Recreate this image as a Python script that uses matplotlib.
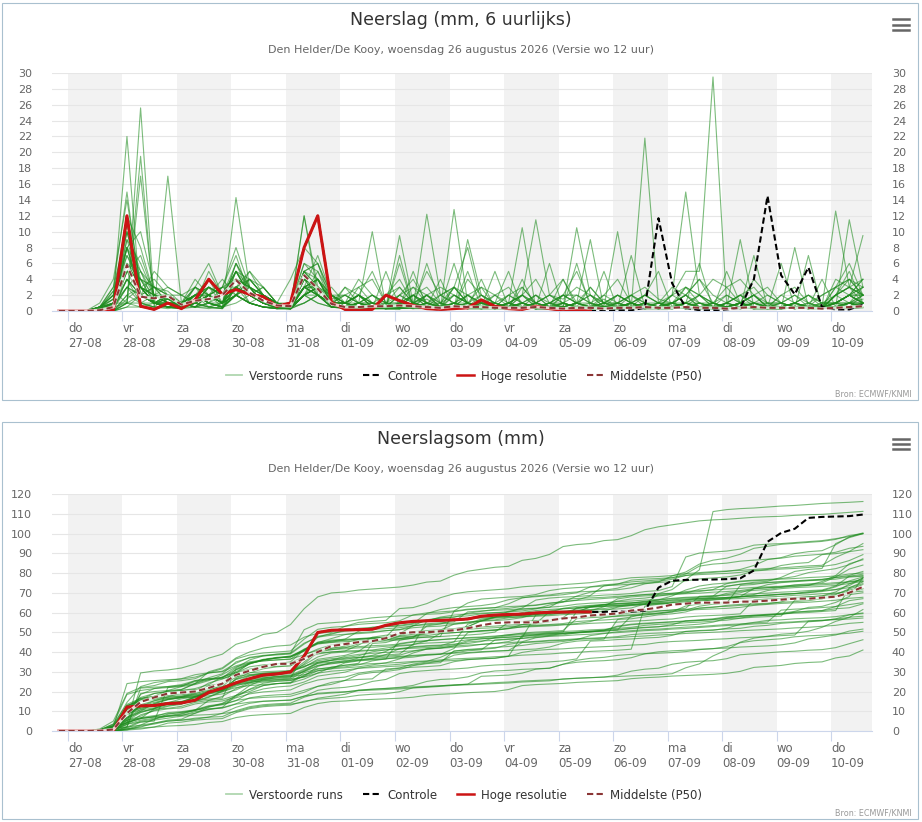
import numpy as np
import pandas as pd
import matplotlib
matplotlib.use('Agg')
import matplotlib.pyplot as plt
from matplotlib.lines import Line2D
from matplotlib.patches import Rectangle

W, H = 922, 822

# tijdstappen van 6 uur (lokale tijd), run van 26-08 12 UTC, +6h t/m +360h
times = pd.date_range('2026-08-26 20:00', periods=60, freq='6h')
days = pd.date_range('2026-08-27', '2026-09-10', freq='D')
day_abbr = ['ma', 'di', 'wo', 'do', 'vr', 'za', 'zo']

title_top = 'Neerslag (mm, 6 uurlijks)'
title_bot = 'Neerslagsom (mm)'
subtitle = 'Den Helder/De Kooy, woensdag 26 augustus 2026 (Versie wo 12 uur)'
bron = 'Bron: ECMWF/KNMI'
legend_labels = ['Verstoorde runs', 'Controle', 'Hoge resolutie', 'Middelste (P50)']

# hoge resolutie: 6-uurlijkse neerslag, loopt t/m +240h
hres_6h = [0, 0, 0, 0, 0.1, 12.0, 0.6, 0.2, 1.0, 0.3, 1.4, 4.0, 2.1, 2.7, 2.1, 1.8,
           0.6, 1.0, 8.0, 12.0, 1.1, 0.2, 0.1, 0.2, 2.0, 1.3, 0.7, 0.3, 0.2, 0.3,
           0.4, 1.4, 0.6, 0.3, 0.2, 0.6, 0.3, 0.1, 0.1, 0.0]

# controle run (eerste 10 dagen gelijk aan hoge resolutie)
ctrl_6h = [0, 0, 0, 0, 0.1, 12.0, 0.6, 0.2, 1.0, 0.3, 1.4, 4.0, 2.1, 2.7, 2.1, 1.8,
           0.6, 1.0, 8.0, 12.0, 1.1, 0.2, 0.1, 0.2, 2.0, 1.3, 0.7, 0.3, 0.2, 0.3,
           0.4, 1.4, 0.6, 0.3, 0.2, 0.6, 0.3, 0.1, 0.1, 0.0,
           0.0, 0.1, 0.1, 0.4, 11.7, 3.5, 0.4, 0.1, 0.1, 0.2, 0.4, 4.0, 14.5, 4.5,
           2.1, 5.5, 0.5, 0.2, 0.2, 0.8]

# mediaan van de 6-uurlijkse neerslag
p50_6h = [0, 0, 0, 0.1, 0.5, 5.8, 1.8, 1.6, 1.9, 0.8, 1.3, 1.5, 2.0, 3.9, 2.3, 1.3,
          0.7, 0.6, 4.5, 2.8, 0.9, 0.5, 0.5, 0.6, 0.6, 0.7, 0.6, 0.5, 0.4, 0.6,
          0.5, 0.5, 0.4, 0.4, 0.4, 0.5, 0.4, 0.3, 0.4, 0.4, 0.3, 0.4, 0.4, 0.5,
          0.4, 0.4, 0.5, 0.4, 0.4, 0.3, 0.4, 0.5, 0.4, 0.4, 0.4, 0.4, 0.3, 0.4,
          0.5, 0.6]

# mediaan van de neerslagsom
p50_sum = [0, 0, 0, 0.1, 0.8, 9, 14.7, 17, 19, 19.5, 20, 21.8, 24, 28.4, 30.5, 32.5,
           34, 34, 36.5, 40, 43, 44, 45, 45.5, 47, 49.5, 50, 50, 50.5, 51, 52, 53.5,
           54.7, 55, 55, 55, 56, 57, 57.5, 58.5, 59, 59.5, 61, 61.5, 62.5, 64, 64.5,
           65, 65, 65, 65.5, 65.5, 66, 66.5, 67, 67, 67.5, 68, 70, 73]

# verstoorde runs, 6-uurlijkse neerslag (mm)
runs_6h = [
    [0, 0, 0, 0.3, 2.5, 1, 25.6, 1, 0.5, 1, 2, 3, 2, 5, 2, 3, 1, 4, 8, 6, 2, 0.5, 1, 0.5, 0.5,
     0.5, 1, 1.5, 0.5, 3, 2, 1, 1, 0.5, 3, 1, 2, 4, 1, 0.5, 1.5, 0.5, 2, 3, 1.5, 1, 1, 1, 0.5,
     0.3, 0.5, 0.5, 0.3, 0.2, 0.5, 0.3, 0.2, 0.5, 0.5, 0.5],
    [0, 0, 0, 0.2, 1, 1, 19.5, 0.5, 0.3, 0.5, 1, 3, 2, 6, 2, 1, 0.5, 0.5, 5, 4, 1, 2, 1, 0.5, 0.3,
     0.3, 1, 2, 1, 0.5, 2, 1, 1, 0.5, 1, 0.5, 1, 1, 0.5, 0.5, 0.5, 0.5, 1, 0.5, 0.5, 2, 5, 5, 29.5,
     1, 0.5, 0.3, 0.5, 0.5, 0.3, 0.5, 0.5, 0.3, 0.3, 0.4],
    [0, 0, 0, 0, 0.5, 9, 3, 2, 1.5, 1, 2, 4, 1, 3, 4, 2, 1, 0.5, 3, 2, 0.5, 0.5, 0.3, 0.2, 1,
     1, 0.5, 12.2, 2, 1, 0.5, 0.5, 0.3, 0.3, 0.5, 1, 2, 1.5, 3, 2, 1, 1, 2, 1, 0.5, 1, 2, 1, 0.5,
     0.5, 1, 2, 3, 1, 2, 1, 0.5, 3, 4, 2],
    [0, 0, 0, 0.5, 1.5, 22, 1, 0.5, 0.5, 0.3, 1, 2, 1, 4, 3, 1, 0.5, 0.5, 12, 3, 0.5, 0.5, 1, 1, 0.5,
     0.5, 0.3, 0.5, 0.3, 1, 1, 0.5, 0.5, 2, 3, 1, 0.5, 1, 0.5, 0.3, 0.3, 0.5, 1, 2, 1, 3, 2, 4, 2,
     1, 2, 3, 1, 1, 0.5, 0.5, 0.5, 1, 2, 1],
    [0, 0, 0, 0, 0.8, 6, 4, 3, 2, 1, 0.5, 2, 3, 7, 2, 1, 0.5, 0.3, 4, 3, 1, 1, 2, 1, 0.5,
     0.5, 1, 0.5, 0.3, 12.8, 1, 0.5, 0.3, 0.5, 0.3, 0.5, 1, 0.5, 1, 2, 0.5, 0.3, 0.5, 1, 0.5, 2, 15, 2, 0.5,
     0.5, 1, 2, 0.5, 0.3, 0.5, 0.5, 0.5, 1, 1, 1.5],
    [0, 0, 0, 0, 0.3, 4, 2, 5, 3, 2, 1, 0.5, 1, 2, 3, 1, 0.5, 0.2, 2, 3, 1, 0.5, 0.5, 1, 1,
     2, 3, 2, 0.5, 1, 0.5, 0.3, 0.5, 1, 2, 11.5, 2, 1, 0.5, 0.5, 1, 2, 1, 0.5, 1, 1, 0.5, 2, 1,
     0.5, 1, 1, 0.5, 2, 3, 1, 0.5, 12.6, 3, 2],
    [0, 0, 0, 0.5, 0.5, 1, 17, 1, 0.5, 0.5, 3, 6, 2, 5, 3, 2, 1, 0.5, 4, 2, 0.5, 3, 2, 0.5, 0.5,
     6, 0.5, 2, 3, 2, 1, 0.5, 0.5, 0.5, 1, 0.5, 0.3, 0.3, 0.5, 0.5, 1, 0.5, 1, 0.3, 0.3, 0.5, 1, 0.5, 0.5,
     0.3, 0.3, 0.5, 0.5, 0.3, 0.5, 0.5, 0.3, 4, 3, 4],
    [0, 0, 0, 0.2, 0.5, 8, 2, 1, 2, 1, 0.5, 1, 0.5, 14.3, 3, 2, 1, 0.5, 3, 4, 1, 0.5, 0.5, 0.5, 0.3,
     1, 2, 0.5, 0.5, 0.5, 1, 3, 2, 0.5, 0.3, 0.5, 1, 2, 1, 0.5, 0.5, 0.5, 0.3, 0.5, 1, 2, 3, 2, 1,
     0.5, 1, 0.5, 0.3, 0.5, 1, 2, 1, 1, 2, 3],
    [0, 0, 0, 0, 0.2, 3, 5, 2, 1, 0.5, 2, 1, 0.5, 2, 4, 3, 1, 0.5, 2, 5, 2, 1, 0.5, 0.5, 2,
     3, 1, 0.5, 0.3, 0.5, 0.3, 1, 2, 1, 0.5, 0.3, 0.5, 0.5, 10.5, 2, 0.5, 0.3, 0.5, 1, 0.5, 1, 0.5, 0.3, 0.5,
     2, 1, 0.5, 0.5, 1, 0.5, 0.5, 2, 3, 6, 2],
    [0, 0, 0, 0.3, 2, 7, 3, 1, 0.5, 1, 0.5, 2, 3, 3, 1, 2, 0.5, 0.5, 3, 4, 1.5, 2, 1, 0.5, 0.5,
     0.3, 0.5, 1, 0.5, 1, 2, 0.5, 0.3, 0.5, 0.5, 1, 0.5, 1, 0.5, 0.3, 0.3, 0.5, 1, 0.5, 0.3, 0.5, 0.3, 0.5, 1,
     2, 1, 0.5, 0.3, 0.3, 0.5, 0.3, 0.5, 0.5, 11.5, 3],
    [0, 0, 0, 0, 1, 12, 2, 1, 0.5, 0.5, 1, 2, 1, 3, 2, 1, 0.5, 0.3, 3, 4, 1, 1, 0.5, 0.3, 0.3,
     0.5, 2, 1, 0.5, 0.5, 0.5, 1, 0.5, 0.3, 0.5, 2, 1, 0.5, 1, 1, 0.3, 0.5, 0.3, 0.5, 0.5, 1, 2, 0.5, 0.5,
     1, 0.5, 0.3, 0.5, 0.5, 1, 2, 0.5, 2, 3, 9.5],
    [0, 0, 0, 0, 0, 2, 3, 1, 1.5, 0.5, 1, 3, 2, 4, 2, 3, 1, 0.5, 5, 2, 0.5, 0.5, 1, 2, 1,
     1, 0.5, 0.5, 0.3, 3, 8, 1, 0.5, 0.5, 1, 0.5, 0.3, 0.3, 0.5, 1, 2, 1, 0.5, 0.5, 0.3, 0.5, 1, 2, 1,
     0.5, 9, 0.5, 1, 0.5, 0.3, 0.5, 0.3, 1, 1, 2],
    [0, 0, 0, 0.5, 3, 10, 3, 1, 2, 1, 0.5, 0.5, 1, 2, 1, 0.5, 0.3, 0.5, 12, 2, 0.5, 0.3, 0.5, 0.3, 0.5,
     0.5, 0.3, 2, 0.5, 0.5, 0.3, 0.3, 0.5, 1, 0.5, 0.3, 0.3, 0.5, 0.3, 0.5, 0.3, 0.5, 0.5, 1, 0.5, 0.3, 0.5, 0.3, 0.5,
     0.5, 1, 0.5, 0.3, 0.3, 8, 0.5, 0.3, 2, 3, 2],
    [0, 0, 0, 0, 0.5, 5, 2, 3, 2, 1, 4, 2, 1, 3, 2, 1, 1, 0.5, 2, 3, 1, 1, 2, 1, 0.5,
     0.5, 5, 0.5, 0.3, 0.3, 9, 2, 1, 0.5, 0.3, 0.5, 0.5, 1, 2, 1, 0.5, 0.3, 0.5, 0.3, 0.5, 0.5, 1, 0.5, 0.3,
     0.3, 0.5, 1, 2, 1, 0.5, 0.3, 0.3, 0.5, 1, 1],
    [0, 0, 0, 0, 0.5, 3, 1, 0.5, 17, 1, 2, 1, 0.5, 2, 1, 0.5, 0.3, 0.3, 2, 3, 1, 0.5, 1, 2, 1,
     0.5, 0.3, 0.3, 0.5, 1, 2, 1, 0.5, 0.3, 0.5, 0.3, 0.5, 0.5, 0.3, 0.5, 1, 2, 1, 0.5, 0.3, 0.5, 0.3, 0.3, 0.5,
     1, 0.5, 0.3, 0.3, 0.5, 1, 0.5, 0.3, 1, 0.5, 2],
    [0, 0, 0, 0, 0, 1, 2, 3, 2.5, 1, 1, 5, 2, 4, 3, 1, 0.5, 0.3, 1, 2, 3, 1, 1, 10, 0.5,
     2, 1, 0.5, 1, 0.5, 0.5, 0.3, 0.3, 1, 2, 0.5, 6, 0.3, 0.5, 0.3, 0.5, 1, 0.5, 0.5, 0.3, 0.3, 0.5, 1, 1,
     0.5, 0.3, 0.5, 0.3, 0.5, 0.3, 0.5, 1, 2, 3, 2],
    [0, 0, 0, 0.5, 2, 6, 3, 2, 1, 0.5, 2, 3, 1, 5, 2, 1, 0.5, 1, 3, 4, 2, 0.5, 0.3, 0.5, 0.3,
     0.3, 1, 0.5, 0.3, 2, 1, 0.5, 0.3, 0.5, 0.3, 1, 0.5, 0.3, 0.5, 0.3, 0.3, 0.5, 7, 0.5, 1, 1, 0.5, 0.3, 0.3,
     0.3, 0.5, 1, 0.5, 0.5, 0.3, 0.3, 0.5, 0.5, 1, 0.5],
    [0, 0, 0, 0, 0, 2, 1, 1, 1.5, 0.5, 3, 2, 1, 6, 3, 2, 1, 0.3, 2, 3, 1, 0.5, 1, 0.3, 0.5,
     0.3, 0.5, 1, 1, 3, 1, 0.5, 0.5, 0.3, 0.5, 0.3, 1, 2, 1, 0.5, 0.5, 10, 0.3, 1, 1, 0.5, 1, 2, 0.5,
     0.3, 0.5, 0.3, 0.5, 1, 2, 0.5, 0.5, 2, 4, 3],
    [0, 0, 0, 0.3, 1.5, 11, 3, 1, 0.5, 0.3, 1, 3, 2, 4, 1, 0.5, 0.3, 0.5, 5, 6, 1, 0.5, 0.3, 0.5, 0.3,
     0.5, 1, 0.5, 4, 0.3, 0.5, 0.3, 0.5, 1, 0.5, 0.3, 0.3, 0.5, 0.3, 0.5, 0.3, 0.3, 0.5, 0.3, 0.5, 0.3, 1, 0.5, 0.3,
     0.3, 0.5, 7, 0.5, 0.3, 0.5, 0.3, 0.5, 1, 2, 1],
    [0, 0, 0, 0, 1, 5, 4, 1, 0.5, 1, 2, 1, 0.5, 2, 5, 3, 1, 0.5, 1, 2, 1, 3, 1, 0.5, 0.5,
     9.5, 1, 0.5, 0.3, 0.5, 0.3, 0.5, 1, 5, 0.3, 0.5, 0.3, 1, 0.5, 0.3, 0.5, 0.5, 1, 0.5, 0.3, 0.5, 0.3, 0.5, 0.5,
     1, 0.5, 0.3, 0.3, 0.5, 0.3, 0.5, 1, 1, 2, 2],
    [0, 0, 0, 0, 0.3, 4, 2, 1, 2, 0.5, 1, 2, 1, 3, 2, 1, 0.5, 0.5, 3, 2, 1, 0.5, 2, 1, 0.5,
     1, 0.5, 0.3, 0.5, 2, 1, 0.5, 0.3, 1, 10.5, 0.3, 0.5, 0.3, 0.5, 0.3, 0.5, 2, 1, 0.5, 0.5, 0.3, 0.5, 0.3, 0.5,
     0.5, 0.3, 1, 0.5, 0.5, 1, 0.5, 0.3, 2, 3, 1],
    [0, 0, 0, 0.5, 1, 8, 2, 1, 1, 0.5, 1, 2, 3, 2, 1, 0.5, 0.5, 0.3, 4, 3, 1, 1, 0.5, 0.3, 0.3,
     0.3, 0.5, 0.3, 0.5, 0.5, 0.3, 0.3, 0.5, 0.3, 0.5, 0.3, 0.3, 0.5, 0.3, 0.5, 0.3, 0.3, 0.5, 21.8, 1, 0.5, 0.3, 0.5, 1,
     0.5, 1, 0.5, 0.3, 0.3, 0.5, 1, 0.5, 0.5, 1, 2],
    [0, 0, 0, 0, 0, 1, 1, 2, 1, 0.5, 0.5, 1, 2, 3, 2, 1, 0.3, 0.3, 2, 3, 1, 0.5, 1, 2, 1,
     3, 1, 0.5, 0.5, 0.3, 0.5, 1, 0.5, 0.3, 0.5, 0.3, 0.5, 0.5, 1, 9, 0.3, 0.5, 0.3, 0.5, 0.3, 1, 2, 0.5, 0.3,
     0.5, 0.3, 1, 0.5, 1, 0.5, 0.3, 0.5, 1, 2, 1],
    [0, 0, 0, 0, 0, 0.5, 2, 1, 1.5, 0.5, 1, 0.5, 0.3, 3, 2, 1, 0.5, 0.3, 3, 2, 0.5, 0.3, 0.5, 0.3, 0.3,
     0.3, 0.5, 0.3, 0.5, 0.5, 0.3, 0.3, 0.3, 0.3, 0.5, 0.3, 0.3, 1, 0.3, 0.3, 0.3, 0.3, 0.3, 0.3, 0.3, 0.5, 3, 2, 4,
     3, 4, 2, 1, 1, 0.5, 1, 2, 3, 2, 4],
    [0, 0, 0, 0.5, 1, 4, 1, 0.5, 0.5, 0.3, 2, 1, 1, 2, 3, 1, 0.5, 0.3, 2, 2, 1, 2, 3, 1, 0.5,
     1, 2, 1, 0.5, 6, 0.5, 0.3, 0.5, 2, 1, 0.5, 0.5, 0.3, 0.5, 0.3, 0.3, 0.5, 1, 0.5, 0.3, 0.3, 0.5, 0.3, 0.3,
     1, 2, 1, 1, 0.3, 0.5, 0.3, 0.3, 0.5, 1, 0.5],
    [0, 0, 0, 0, 0.5, 3, 2, 1, 1, 1, 2, 2, 1, 2, 1, 0.5, 0.3, 0.3, 2, 3, 2, 1, 0.5, 0.3, 5,
     0.5, 2, 1, 0.5, 0.3, 0.5, 0.3, 0.3, 1, 2, 1, 0.5, 0.3, 0.5, 0.3, 0.3, 0.3, 0.5, 0.3, 1, 0.5, 0.3, 0.3, 0.5,
     0.3, 0.5, 0.3, 0.3, 0.5, 0.3, 7, 0.3, 0.5, 0.3, 0.5],
    [0, 0, 0, 0, 0, 1.5, 3, 1, 1, 1, 0.5, 0.3, 0.5, 1, 2, 1, 0.5, 0.3, 1, 2, 1, 1, 2, 0.5, 0.5,
     0.5, 1, 2, 1, 0.3, 1, 2, 1, 0.3, 0.5, 0.3, 0.3, 2, 2, 1, 0.5, 1, 0.5, 0.3, 0.3, 0.3, 0.5, 1, 0.5,
     0.3, 0.5, 0.3, 0.3, 0.5, 1, 2, 1, 1, 2, 1],
    [0, 0, 0, 0, 0, 1, 0.5, 0.5, 2, 0.5, 1, 0.5, 0.3, 3, 2, 1, 0.5, 0.3, 2, 1, 0.5, 0.5, 1, 0.5, 0.3,
     1, 2, 0.5, 0.5, 0.3, 0.5, 4, 0.3, 0.3, 1, 2, 0.5, 2, 1, 0.5, 0.3, 0.5, 1, 2, 1, 0.5, 0.3, 0.5, 0.3,
     1, 2, 1, 0.5, 0.5, 1, 0.5, 0.3, 0.5, 0.5, 1],
    [0, 0, 0, 0.3, 1, 3, 2, 1, 0.5, 1, 2, 0.5, 0.3, 2, 1, 0.5, 0.3, 0.3, 2, 1, 0.5, 0.5, 1, 0.5, 0.3,
     0.3, 0.5, 0.3, 0.3, 0.5, 0.3, 0.3, 0.5, 0.3, 0.5, 0.3, 0.3, 0.3, 0.5, 0.3, 0.3, 1, 2, 1, 0.5, 2, 1, 0.5, 0.3,
     1, 2, 0.5, 0.5, 0.5, 0.3, 0.5, 0.3, 1, 2, 2],
    [0, 0, 0, 0, 0, 0.5, 0.5, 1, 0.5, 0.3, 0.5, 1, 0.5, 2, 1, 0.5, 0.3, 0.3, 3, 2, 1, 0.3, 0.5, 0.3, 0.3,
     0.3, 0.5, 1, 0.5, 0.3, 0.5, 0.3, 0.3, 1, 2, 0.5, 0.3, 0.3, 0.5, 0.3, 0.3, 0.3, 1, 0.5, 0.3, 0.5, 0.3, 0.3, 0.3,
     0.5, 1, 2, 0.5, 0.5, 1, 0.5, 0.3, 2, 1, 3],
    [0, 0, 0, 0.5, 1.5, 9, 6, 2, 1, 1, 3, 2, 1, 4, 3, 2, 1, 0.5, 4, 3, 1, 1, 4, 2, 0.5,
     0.5, 1, 5, 2, 1, 0.5, 0.5, 1, 2, 1, 0.5, 0.5, 0.5, 1, 3, 1, 0.5, 1, 0.5, 0.5, 1, 2, 4, 1,
     0.5, 1, 0.5, 0.5, 0.5, 1, 0.5, 0.5, 1, 2, 1],
    [0, 0, 0, 1, 4, 14, 3, 1, 2, 0.5, 1, 3, 2, 5, 2, 1, 0.5, 0.5, 6, 5, 1, 0.5, 1, 0.5, 0.3,
     1, 3, 1, 0.5, 0.5, 4, 2, 0.5, 0.5, 0.3, 1, 2, 1, 0.5, 0.3, 0.5, 1, 2, 0.5, 0.3, 0.5, 1, 0.5, 0.3,
     0.3, 0.5, 1, 0.5, 2, 1, 0.5, 4, 0.5, 1, 1],
    [0, 0, 0, 0.3, 1, 7, 4, 3, 2, 2, 1, 4, 2, 3, 5, 2, 1, 0.5, 3, 4, 2, 2, 1, 0.5, 0.5,
     0.5, 2, 3, 1, 0.5, 0.5, 1, 0.5, 0.5, 2, 4, 1, 0.5, 0.3, 0.5, 5, 0.3, 0.5, 0.3, 0.5, 0.5, 0.3, 1, 0.5,
     0.5, 1, 2, 0.5, 0.5, 0.3, 0.5, 0.5, 1, 2, 3],
    [0, 0, 0, 0, 0.5, 10, 5, 1, 0.5, 0.5, 2, 1, 3, 8, 3, 1, 0.5, 0.3, 5, 3, 0.5, 0.5, 0.3, 0.5, 0.3,
     0.3, 0.5, 6, 1, 2, 1, 0.5, 0.3, 0.3, 0.5, 0.3, 0.5, 0.5, 0.3, 0.5, 2, 4, 1, 0.5, 0.3, 0.3, 0.5, 0.3, 0.5,
     0.3, 0.5, 1, 0.5, 0.3, 0.5, 0.3, 0.3, 0.5, 1, 0.5],
    [0, 0, 0, 0.5, 2, 12, 8, 2, 1, 1, 2, 1, 0.5, 3, 2, 1, 1, 0.5, 3, 7, 2, 1, 0.5, 0.5, 0.3,
     0.5, 1, 0.5, 0.5, 0.3, 0.5, 0.5, 2, 3, 1, 0.5, 0.5, 4, 0.5, 0.3, 0.3, 0.5, 0.3, 0.5, 0.3, 0.3, 1, 0.5, 0.3,
     0.5, 0.3, 0.5, 0.3, 0.3, 0.5, 0.3, 0.5, 0.5, 0.5, 1],
    [0, 0, 0, 0, 1, 6, 3, 4, 2, 1, 0.5, 2, 1, 6, 3, 2, 1, 0.5, 4, 2, 1, 0.5, 3, 4, 1,
     0.5, 1, 0.5, 0.3, 0.5, 1, 0.5, 0.3, 0.5, 0.3, 0.5, 1, 2, 5, 1, 0.5, 0.3, 0.5, 1, 0.5, 1, 0.5, 0.3, 0.3,
     5, 1, 0.5, 0.3, 0.3, 0.5, 0.3, 0.5, 1, 0.5, 0.5],
    [0, 0, 0, 0.5, 3, 15, 2, 1, 0.5, 0.5, 1, 2, 3, 4, 2, 1, 0.5, 0.5, 2, 3, 2, 1, 2, 0.5, 0.3,
     0.3, 0.5, 1, 2, 3, 1, 0.5, 0.3, 0.5, 1, 2, 0.5, 0.5, 0.3, 0.5, 0.3, 0.3, 0.5, 2, 5, 0.5, 0.3, 0.5, 1,
     3, 1, 0.5, 0.3, 0.5, 0.3, 0.5, 0.3, 0.5, 1, 0.5],
    [0, 0, 0, 0, 0.5, 8, 10, 3, 1, 1, 2, 1, 0.5, 3, 4, 2, 1, 1, 3, 3, 1, 1, 0.5, 0.3, 0.5,
     2, 4, 1, 0.5, 0.5, 5, 0.5, 0.3, 0.3, 0.5, 0.3, 0.5, 0.5, 1, 0.5, 0.3, 0.5, 0.3, 0.5, 0.3, 0.3, 0.5, 0.3, 0.5,
     0.5, 0.3, 0.5, 0.3, 0.5, 0.3, 0.5, 0.3, 2, 5, 1],
    [0, 0, 0, 0.3, 1, 5, 7, 2, 1, 1, 1, 2, 1, 5, 2, 1, 0.5, 0.5, 2, 4, 1, 1, 2, 5, 1,
     0.5, 1, 2, 0.5, 0.5, 2, 3, 0.5, 1, 0.5, 0.3, 0.3, 0.5, 0.3, 0.5, 1, 2, 1, 0.5, 0.3, 0.5, 1, 0.5, 0.3,
     0.3, 1, 4, 2, 1, 0.5, 0.5, 0.3, 0.5, 1, 0.5],
    [0, 0, 0, 0.5, 2, 10, 3, 2, 3, 2, 3, 1, 0.5, 5, 4, 2, 1, 0.5, 5, 3, 1, 0.5, 0.3, 0.5, 1,
     0.5, 1, 0.5, 0.3, 1, 0.5, 2, 1, 0.5, 0.3, 0.5, 0.3, 0.3, 0.5, 3, 1, 0.5, 0.3, 0.5, 0.3, 0.5, 0.3, 0.5, 0.3,
     0.3, 0.5, 0.3, 0.5, 0.5, 0.3, 0.5, 0.5, 1, 2, 4],
    [0, 0, 0, 0, 0.3, 5, 4, 2, 1.5, 1, 2, 3, 2, 4, 3, 1, 0.5, 0.5, 3, 2, 1, 0.5, 1, 1, 2,
     4, 1, 0.5, 0.5, 0.5, 0.5, 0.3, 0.5, 0.5, 1, 0.5, 0.3, 0.5, 6, 0.5, 0.3, 0.3, 0.5, 0.3, 0.5, 1, 3, 1, 0.5,
     0.5, 0.3, 0.5, 0.3, 0.5, 0.3, 0.5, 0.3, 0.5, 0.5, 1],
    [0, 0, 0, 0.5, 2.5, 8, 5, 3, 1, 0.5, 1, 2, 4, 2, 3, 1, 0.5, 1, 6, 4, 1, 0.5, 0.3, 0.5, 0.3,
     7, 0.5, 0.3, 0.5, 0.5, 0.3, 0.5, 0.3, 0.5, 2, 1, 0.5, 0.5, 0.3, 0.5, 0.3, 0.3, 0.5, 0.3, 0.5, 0.3, 0.5, 0.3, 0.5,
     0.5, 0.3, 0.5, 0.3, 0.3, 0.5, 0.3, 0.5, 0.3, 0.5, 0.5],
    [0, 0, 0, 0.3, 0.5, 4, 2, 1, 1, 0.5, 1, 2, 1, 2, 4, 2, 1, 0.5, 2, 3, 1, 1, 2, 1, 0.5,
     0.5, 1, 0.5, 2, 3, 1, 0.5, 0.5, 0.5, 0.5, 1, 0.5, 0.5, 1, 2, 1, 1, 0.5, 0.5, 0.3, 0.5, 0.5, 0.3, 0.5,
     0.5, 0.3, 0.5, 0.5, 6, 0.5, 0.3, 0.5, 0.5, 1, 1],
    [0, 0, 0, 0.5, 1, 11, 4, 1, 0.5, 0.3, 1, 2, 0.5, 2, 1, 0.5, 0.5, 0.5, 4, 3, 1, 0.5, 1, 0.5, 0.3,
     0.3, 0.5, 1, 0.5, 0.5, 0.3, 0.5, 0.3, 0.3, 4, 0.3, 0.5, 0.3, 0.5, 0.3, 0.3, 0.3, 0.5, 0.3, 0.5, 0.3, 0.5, 0.3, 0.3,
     0.3, 0.5, 0.3, 0.3, 0.3, 0.5, 0.3, 0.5, 0.5, 1, 0.5],
    [0, 0, 0, 0, 0.5, 6, 3, 2, 2, 1, 3, 2, 1, 4, 2, 1, 1, 0.5, 5, 6, 2, 1, 2, 0.5, 0.5,
     2, 1, 0.5, 0.5, 1, 0.5, 0.5, 0.3, 0.5, 0.3, 0.5, 0.3, 0.5, 1, 0.5, 0.3, 0.5, 1, 2, 1, 0.5, 1, 6, 0.3,
     0.5, 1, 2, 0.5, 0.5, 1, 0.5, 0.5, 3, 4, 2],
    [0, 0, 0, 0.3, 1, 8, 3, 1, 1, 0.5, 2, 2, 1, 3, 2, 2, 1, 0.5, 3, 3, 0.5, 0.5, 0.5, 1, 0.5,
     0.5, 0.5, 0.5, 0.3, 0.5, 1, 0.5, 5, 0.5, 0.3, 0.5, 0.5, 0.3, 0.5, 0.3, 0.5, 0.3, 0.5, 0.5, 0.3, 0.5, 0.3, 0.5, 0.5,
     0.5, 0.3, 0.5, 0.3, 0.5, 0.3, 0.5, 0.3, 0.5, 1, 0.5],
]

# kleuren
c_run = '#1e8c1e'
c_hres = '#cc1414'
c_p50 = '#8b3535'
c_grid = '#e6e6e6'
c_band = '#f2f2f2'
c_axis = '#ccd6eb'
c_label = '#666666'
c_title = '#333333'


def fx(px):
    return px / W


def fy(py):
    return 1 - py / H


def style_axes(ax, ymax, ystep):
    for i, d in enumerate(days):
        if i % 2 == 0:
            ax.axvspan(d, d + pd.Timedelta(days=1), color=c_band, lw=0, zorder=0)
    ax.set_xlim(pd.Timestamp('2026-08-26 17:00'), pd.Timestamp('2026-09-10 18:00'))
    ax.set_ylim(0, ymax)
    ax.set_yticks(np.arange(0, ymax + 1, ystep))
    ax.yaxis.grid(True, color=c_grid, lw=0.8, zorder=0.5)
    ax.set_axisbelow(True)
    for s in ['top', 'left', 'right']:
        ax.spines[s].set_visible(False)
    ax.spines['bottom'].set_color(c_axis)
    ax.spines['bottom'].set_linewidth(0.8)
    ax.spines['bottom'].set_zorder(1)
    ax.set_xticks(days)
    ax.set_xticklabels(['{}\n{}'.format(day_abbr[d.weekday()], d.strftime('%d-%m')) for d in days],
                       ha='left', linespacing=1.2)
    ax.tick_params(axis='x', direction='out', length=7.2, width=0.8, color=c_axis,
                   labelcolor=c_label, labelsize=8.4, pad=0.5)
    ax.tick_params(axis='y', left=False, right=False, labelleft=True, labelright=True,
                   labelcolor=c_label, labelsize=8, pad=10.8)
    ax.set_facecolor('none')


def draw_panel(ax, runs, ctrl, hres, p50):
    for r in runs:
        ax.plot(times, r, color=c_run, alpha=0.58, lw=0.8, zorder=2)
    ax.plot(times, ctrl, color='black', lw=1.5, dashes=(3, 1.6), zorder=3)
    ax.plot(times[:len(hres)], hres, color=c_hres, lw=2.2, zorder=4, solid_joinstyle='round')
    ax.plot(times, p50, color='white', lw=2.2, alpha=0.8, zorder=5)
    ax.plot(times, p50, color=c_p50, lw=1.5, dashes=(3, 1.6), zorder=6)


def header(y0, title):
    # kader, titel, ondertitel, menu-icoon, bron
    fig.add_artist(Rectangle((fx(2), fy(y0 + 397)), fx(916), 397 / H, fill=False,
                             ec='#a9c0cf', lw=0.8, transform=fig.transFigure))
    fig.text(fx(461), fy(y0 + 17), title, ha='center', va='center', fontsize=12.5, color=c_title)
    fig.text(fx(461), fy(y0 + 47), subtitle, ha='center', va='center', fontsize=8, color=c_label)
    for dy in (-5.5, 0, 5.5):
        fig.add_artist(Line2D([fx(893), fx(909)], [fy(y0 + 22 + dy)] * 2, color='#666666',
                              lw=1.8, transform=fig.transFigure))
    fig.text(fx(912), fy(y0 + 391), bron, ha='right', va='center', fontsize=5.8, color='#999999')
    handles = [Line2D([], [], color=c_run, alpha=0.35, lw=1.3),
               Line2D([], [], color='black', lw=1.5, dashes=(3, 1.6)),
               Line2D([], [], color=c_hres, lw=1.8),
               Line2D([], [], color=c_p50, lw=1.5, dashes=(3, 1.6))]
    fig.legend(handles, legend_labels, loc='center', bbox_to_anchor=(fx(464), fy(y0 + 373)),
               ncol=4, frameon=False, fontsize=8.5, handlelength=1.4, handletextpad=0.6,
               columnspacing=1.7, labelcolor=c_title)


fig = plt.figure(figsize=(W / 100, H / 100), dpi=100)
fig.patch.set_facecolor('white')

ax1 = fig.add_axes([fx(52), fy(311), fx(820), 238 / H])
ax2 = fig.add_axes([fx(52), fy(731), fx(820), 237 / H])

# bovenste grafiek: 6-uurlijkse neerslag
draw_panel(ax1, runs_6h, ctrl_6h, hres_6h, p50_6h)
style_axes(ax1, 30, 2)

# onderste grafiek: neerslagsom
runs_sum = [np.cumsum(r) for r in runs_6h]
draw_panel(ax2, runs_sum, np.cumsum(ctrl_6h), np.cumsum(hres_6h), p50_sum)
style_axes(ax2, 120, 10)

header(3, title_top)
header(422, title_bot)

fig.savefig('out.png', dpi=100)
